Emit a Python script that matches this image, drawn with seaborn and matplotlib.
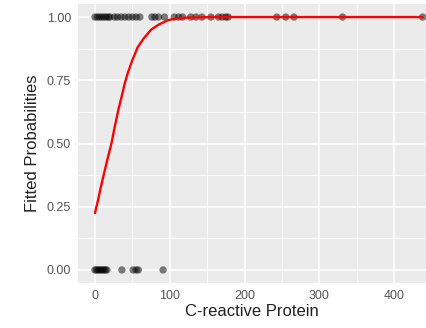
import matplotlib
matplotlib.use("Agg")
import matplotlib.pyplot as plt
import seaborn as sns
import numpy as np
import pandas as pd
from matplotlib.ticker import MultipleLocator

# observed outcomes (y = 1)
crp_pos = [0, 3, 6, 9, 12, 15, 18, 20, 26, 30, 35, 40, 45, 50, 55, 60,
           76, 80, 85, 93, 106, 112, 117, 128, 135, 143,
           155, 165, 170, 175, 178, 243, 255, 266, 331, 438]
# observed outcomes (y = 0)
crp_neg = [0, 2, 4, 6, 8, 10, 12, 14, 16, 36, 51, 55, 58, 91]

# fitted probability curve
curve_x = [0, 4, 8, 12, 16, 22, 26, 31, 36, 40, 44, 50, 57, 65, 75, 85,
           98, 110, 124, 160, 250, 350, 438]
curve_p = [0.225, 0.275, 0.33, 0.38, 0.43, 0.50, 0.56, 0.63, 0.69, 0.74,
           0.78, 0.83, 0.88, 0.915, 0.95, 0.97, 0.988, 0.995, 0.998,
           1.0, 1.0, 1.0, 1.0]

x_ticks = [0, 100, 200, 300, 400]
y_ticks = [0.00, 0.25, 0.50, 0.75, 1.00]
y_labels = ["0.00", "0.25", "0.50", "0.75", "1.00"]

pts = pd.DataFrame({
    "crp": crp_pos + crp_neg,
    "y": [1.0] * len(crp_pos) + [0.0] * len(crp_neg),
})
curve = pd.DataFrame({"crp": curve_x, "p": curve_p})

sns.set_theme(style="darkgrid")
plt.rcParams["font.family"] = ["Liberation Sans", "DejaVu Sans"]

fig = plt.figure(figsize=(4.26, 3.28), dpi=100)
ax = fig.add_axes([78 / 426, 1 - 282.6 / 328, 1 - 78 / 426, (282.6 - 4.4) / 328])
ax.set_facecolor("#EBEBEB")

sns.scatterplot(data=pts, x="crp", y="y", ax=ax, color="black", alpha=0.5,
                s=28, edgecolor="none", zorder=3)
sns.lineplot(data=curve, x="crp", y="p", ax=ax, color="#FF0000", lw=1.7,
             zorder=4, estimator=None)

ax.set_xlim(-22.7, 442.5)
ax.set_ylim(-0.05, 1.05)
ax.set_xticks(x_ticks)
ax.set_yticks(y_ticks)
ax.set_yticklabels(y_labels)
ax.xaxis.set_minor_locator(MultipleLocator(50))
ax.yaxis.set_minor_locator(MultipleLocator(0.125))
ax.grid(which="major", color="white", lw=1.1)
ax.grid(which="minor", color="white", lw=0.55)
for s in ax.spines.values():
    s.set_visible(False)
ax.tick_params(axis="both", which="major", length=3, width=0.8, color="#333333",
               labelcolor="#555555", labelsize=9, pad=2)
ax.tick_params(axis="both", which="minor", length=0)
ax.set_xlabel("C-reactive Protein", fontsize=12, color="#222222", labelpad=2)
ax.set_ylabel("Fitted Probabilities", fontsize=12, color="#222222", labelpad=5)

fig.savefig("out.png", dpi=100)
